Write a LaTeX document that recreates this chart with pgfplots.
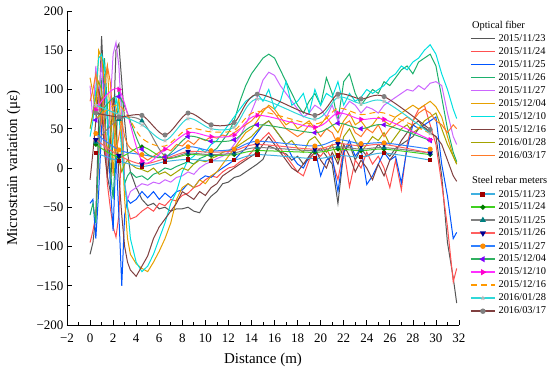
\documentclass[border=0pt]{standalone}
\usepackage{fontspec}
\setmainfont{Liberation Serif}
\usepackage{pgfplots}
\usepackage{pgfplotstable}
\pgfplotsset{compat=1.18}
\definecolor{ofA}{HTML}{555555}
\definecolor{ofB}{HTML}{FF5050}
\definecolor{ofC}{HTML}{0055FF}
\definecolor{ofD}{HTML}{1CB06C}
\definecolor{ofE}{HTML}{CC66FF}
\definecolor{ofF}{HTML}{E6A000}
\definecolor{ofG}{HTML}{00E0E0}
\definecolor{ofH}{HTML}{804040}
\definecolor{ofI}{HTML}{A3A300}
\definecolor{ofJ}{HTML}{FF7A28}
\definecolor{rl1}{HTML}{40B0E0}\definecolor{rm1}{HTML}{A00000}
\definecolor{rl2}{HTML}{40D020}\definecolor{rm2}{HTML}{007A00}
\definecolor{rl3}{HTML}{808080}\definecolor{rm3}{HTML}{008080}
\definecolor{rl4}{HTML}{FF6060}\definecolor{rm4}{HTML}{000090}
\definecolor{rl5}{HTML}{3080FF}\definecolor{rm5}{HTML}{FF8C00}
\definecolor{rl6}{HTML}{30B060}\definecolor{rm6}{HTML}{8000FF}
\definecolor{rl7}{HTML}{FF30FF}\definecolor{rm7}{HTML}{FF00CC}
\definecolor{rl8}{HTML}{FF9900}
\definecolor{rl9}{HTML}{30D8D8}\definecolor{rm9}{HTML}{B8B8B8}
\definecolor{rl10}{HTML}{804040}\definecolor{rm10}{HTML}{808080}

\pgfplotstableread{
x o1 o2 o3 o4 o5 o6 o7 o8 o9 o10
0 -110 -95 -45 -60 105 115 40 -15 50 85
0.25 -95 -80 -40 -45 60 95 60 20 70 100
0.5 -60 -60 -90 -70 130 70 100 60 90 120
0.75 60 10 -30 20 80 150 140 100 110 90
1.0 168 90 50 110 140 140 145 80 100 60
1.25 90 40 120 140 60 110 130 20 60 100
1.5 -10 -20 60 80 10 130 60 -10 20 130
1.75 -30 -50 -20 0 80 60 10 30 40 110
2.0 40 -75 -80 -40 145 -10 40 90 70 60
2.25 150 -88 20 30 160 70 90 60 40 20
2.5 158 -60 -60 100 130 90 70 -10 10 40
2.75 110 40 -150 85 60 40 20 -60 -5 60
3.0 60 -20 -60 -20 -20 -40 -20 -100 5 40
3.25 20 -50 -40 -10 -40 -90 -50 -120 10 30
3.5 -5 -65 -45 -5 -30 -110 -90 -130 5 25
4 -25 -62 -40 -12 -25 -122 -120 -138 0 20
4.5 -40 -55 -30 -10 -20 -128 -132 -125 -2 15
5 -48 -50 -38 -15 -22 -132 -125 -112 -5 10
5.5 -45 -55 -30 -8 -18 -120 -110 -90 0 15
6 -52 -45 -40 -5 -20 -106 -90 -75 -8 20
6.5 -50 -48 -32 0 -15 -90 -70 -65 -5 25
7 -55 -40 -38 -2 -18 -70 -45 -55 -10 22
7.5 -52 -42 -30 2 -12 -40 -30 -45 -5 30
8 -52 -35 -28 5 -10 -25 -5 -30 0 28
8.5 -50 -32 -20 8 -5 -20 10 -35 -3 35
9 -55 -25 -25 5 -8 -25 15 -40 5 30
9.5 -57 -22 -15 12 0 -15 25 -30 10 38
10 -45 -15 -10 15 5 -20 20 -35 8 35
10.5 -36 -10 -12 20 8 -10 30 -25 12 40
11 -30 -12 -5 25 12 -5 35 -20 15 38
11.5 -20 -5 0 35 15 5 45 -10 20 42
12 -18 0 5 45 20 15 55 -5 22 40
12.5 -12 2 10 60 30 25 65 0 25 45
13 -10 8 18 85 40 35 75 5 30 50
13.5 -5 12 25 105 55 45 85 10 35 55
14 0 20 35 120 72 50 90 15 40 60
14.5 5 30 45 130 90 60 95 20 48 68
15 11 38 55 140 112 72 85 30 55 75
15.5 28 45 60 145 122 80 100 40 60 78
16 25 35 50 140 118 75 75 30 50 70
16.5 20 25 40 125 105 65 85 20 40 60
17 18 15 30 110 95 55 110 10 30 50
17.5 10 5 15 95 85 60 80 0 35 45
18 15 -5 5 80 75 50 85 -5 25 40
18.5 5 -10 0 70 65 55 95 5 20 45
19 12 10 15 85 70 60 70 15 35 55
19.5 20 20 25 95 80 50 100 25 40 50
20 25 15 -10 80 75 55 80 10 30 40
20.5 15 25 10 115 65 65 95 0 20 50
21 5 10 15 95 80 55 90 20 30 45
21.5 -45 -15 -30 60 60 45 110 5 10 30
22 20 25 20 110 75 60 80 30 40 55
22.5 30 -24 35 120 85 70 95 15 50 60
23 10 10 15 95 80 55 85 -5 35 45
23.5 25 0 25 80 70 60 90 10 20 40
24 15 20 -21 90 78 50 100 0 30 50
24.5 20 5 -10 100 75 55 95 -15 40 45
25 30 15 5 95 70 65 100 5 35 55
25.5 22 0 20 110 80 60 105 -10 45 40
26 15 -25 10 105 85 55 115 10 30 50
26.5 25 10 15 115 90 65 120 20 40 55
27 30 -28 -19 125 95 70 130 35 50 60
27.5 35 30 25 130 100 75 125 45 55 65
28 40 60 55 120 98 80 135 55 45 60
28.5 50 75 50 135 105 75 140 60 50 70
29 52 80 55 140 100 80 150 50 60 75
29.5 45 55 60 145 108 85 157 45 65 70
30 40 30 65 130 110 78 145 40 70 60
30.5 -10 -20 5 90 105 65 120 30 50 55
31 -95 -75 -36 50 70 40 100 10 30 45
31.5 -140 -145 -90 20 40 15 75 -10 15 55
31.8 -172 -128 -82 8 30 5 63 -17 5 50
}\fiber

\pgfplotstableread{
x r1 r2 r3 r4 r5 r6 r7 r8 r9 r10
0.5 19 30 33 36 44 61 74 62 80 70
2.5 9 14 62 16 23 91 100 80 68 65
4.5 2 27 60 5 17 24 9 38 55 67
6.5 8 12 15 12 14 14 24 28 35 42
8.5 11 17 19 21 27 40 45 50 63 70
10.5 9 16 17 20 22 34 40 46 50 55
12.5 10 17 19 22 24 36 42 48 52 58
14.5 17 22 26 30 34 55 67 72 88 94
19.5 12 20 22 24 28 45 52 56 62 67
21.5 16 24 27 31 36 57 70 76 90 94
23.5 14 22 24 28 31 50 62 68 82 88
25.5 19 24 26 30 32 55 62 70 85 91
29.5 10 17 19 19 24 35 36 44 44 49
}\rebar

\begin{document}
\begin{tikzpicture}
\begin{axis}[
  name=ax,
  scale only axis, width=392pt, height=314pt,
  xmin=-2, xmax=32, ymin=-200, ymax=200,
  axis lines=left,
  axis line style={line width=0.9pt, -},
  tick align=inside,
  major tick length=5pt, minor tick length=3pt,
  tick style={black, line width=0.7pt},
  xtick={-2,0,...,32},
  xticklabels={−2,0,2,4,6,8,10,12,14,16,18,20,22,24,26,28,30,32},
  ytick={-200,-150,...,200},
  yticklabels={−200,−150,−100,−50,0,50,100,150,200},
  minor x tick num=1, minor y tick num=1,
  ticklabel style={font=\fontsize{13}{15}\selectfont},
  x tick label style={yshift=-5pt},
  xlabel={Distance (m)},
  ylabel={Microstrain variation (με)},
  label style={font=\fontsize{15}{17}\selectfont},
  xlabel style={at={(axis description cs:0.5,-0.1115)}, anchor=center},
  ylabel style={at={(axis description cs:-0.1365,0.5)}, anchor=center},
  legend cell align=left,
  legend image code/.code={\draw[mark repeat=2,mark phase=2,#1,line width=1.4pt] plot coordinates {(0pt,0pt) (12pt,0pt) (24pt,0pt)};},
  legend style={at={(1,1)}, anchor=north west, xshift=11pt, yshift=-7.5pt,
    draw=none, fill=none, inner sep=0pt, column sep=3pt, row sep=0pt,
    nodes={inner xsep=0pt, inner ysep=1.5pt, text height=7.8pt, text depth=2.2pt},
    font=\fontsize{10.4}{12}\selectfont},
]
\addlegendimage{empty legend}\addlegendentry{\hspace*{-26.5pt}Optical fiber}
\addplot[color=ofA, line width=1pt, smooth, tension=0] table[x=x,y=o1]{\fiber};\addlegendentry{2015/11/23}
\addplot[color=ofB, line width=1pt, smooth, tension=0] table[x=x,y=o2]{\fiber};\addlegendentry{2015/11/24}
\addplot[color=ofC, line width=1pt, smooth, tension=0] table[x=x,y=o3]{\fiber};\addlegendentry{2015/11/25}
\addplot[color=ofD, line width=1pt, smooth, tension=0] table[x=x,y=o4]{\fiber};\addlegendentry{2015/11/26}
\addplot[color=ofE, line width=1pt, smooth, tension=0] table[x=x,y=o5]{\fiber};\addlegendentry{2015/11/27}
\addplot[color=ofF, line width=1pt, smooth, tension=0] table[x=x,y=o6]{\fiber};\addlegendentry{2015/12/04}
\addplot[color=ofG, line width=1pt, smooth, tension=0] table[x=x,y=o7]{\fiber};\addlegendentry{2015/12/10}
\addplot[color=ofH, line width=1pt, smooth, tension=0] table[x=x,y=o8]{\fiber};\addlegendentry{2015/12/16}
\addplot[color=ofI, line width=1pt, smooth, tension=0] table[x=x,y=o9]{\fiber};\addlegendentry{2016/01/28}
\addplot[color=ofJ, line width=1pt, smooth, tension=0] table[x=x,y=o10]{\fiber};\addlegendentry{2016/03/17}
\addlegendimage{empty legend}\addlegendentry{}
\addlegendimage{empty legend}\addlegendentry{\hspace*{-26.5pt}Steel rebar meters}
\addplot[color=rl1, line width=1pt, smooth, mark=square*, mark size=1.8pt, mark options={solid, fill=rm1, draw=rm1}] table[x=x,y=r1]{\rebar};\addlegendentry{2015/11/23}
\addplot[color=rl2, line width=1pt, smooth, mark=*, mark size=1.8pt, mark options={solid, fill=rm2, draw=rm2}] table[x=x,y=r2]{\rebar};\addlegendentry{2015/11/24}
\addplot[color=rl3, line width=1pt, smooth, mark=triangle*, mark size=2.2pt, mark options={solid, fill=rm3, draw=rm3}] table[x=x,y=r3]{\rebar};\addlegendentry{2015/11/25}
\addplot[color=rl4, line width=1pt, smooth, mark=triangle*, mark size=2.2pt, mark options={solid, rotate=180, fill=rm4, draw=rm4}] table[x=x,y=r4]{\rebar};\addlegendentry{2015/11/26}
\addplot[color=rl5, line width=1pt, smooth, mark=*, mark size=2pt, mark options={solid, fill=rm5, draw=rm5}] table[x=x,y=r5]{\rebar};\addlegendentry{2015/11/27}
\addplot[color=rl6, line width=1pt, smooth, mark=triangle*, mark size=2.2pt, mark options={solid, rotate=90, fill=rm6, draw=rm6}] table[x=x,y=r6]{\rebar};\addlegendentry{2015/12/04}
\addplot[color=rl7, line width=1pt, smooth, mark=triangle*, mark size=2.2pt, mark options={solid, rotate=-90, fill=rm7, draw=rm7}] table[x=x,y=r7]{\rebar};\addlegendentry{2015/12/10}
\addplot[color=rl8, line width=1pt, smooth, dash pattern=on 6pt off 4pt] table[x=x,y=r8]{\rebar};\addlegendentry{2015/12/16}
\addplot[color=rl9, line width=1pt, smooth, mark=star, mark size=2.2pt, mark options={solid, draw=rm9, line width=0.8pt}] table[x=x,y=r9]{\rebar};\addlegendentry{2016/01/28}
\addplot[color=rl10, line width=1pt, smooth, mark=*, mark size=2pt, mark options={solid, fill=rm10, draw=rm10}] table[x=x,y=r10]{\rebar};\addlegendentry{2016/03/17}
\end{axis}
\pgfresetboundingbox
\path[use as bounding box] ([shift={(-67pt,-46pt)}]ax.south west) rectangle ([shift={(483pt,325pt)}]ax.south west);
\end{tikzpicture}
\end{document}
